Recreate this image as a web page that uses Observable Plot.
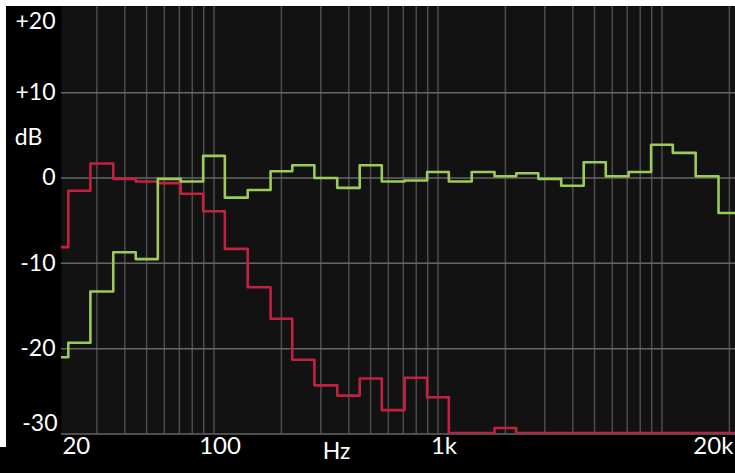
<!DOCTYPE html>
<html>
<head>
<meta charset="utf-8">
<script src="https://cdn.jsdelivr.net/npm/d3@7"></script>
<script src="https://cdn.jsdelivr.net/npm/@observablehq/plot@0.6"></script>
<style>
  html, body { margin: 0; padding: 0; background: #000; }
  #wrap { position: relative; width: 735px; height: 473px; overflow: hidden; }
  .edge { position: absolute; background: #fff; }
</style>
</head>
<body>
<div id="wrap">
  <div id="chart"></div>
  <div class="edge" style="left:0;top:0;width:735px;height:6px"></div>
  <div class="edge" style="left:0;top:0;width:6px;height:447px"></div>
</div>
<script>
// 1/3-octave band centre frequencies (Hz)
const bands = [20, 25, 31.5, 40, 50, 63, 80, 100, 125, 160, 200, 250, 315, 400, 500, 630, 800,
  1000, 1250, 1600, 2000, 2500, 3150, 4000, 5000, 6300, 8000, 10000, 12500, 16000, 20000];

// red series (dB)
const redDb = [-8.1, -1.5, 1.7, -0.1, -0.4, -0.6, -1.85, -3.9, -8.3, -12.8, -16.5, -21.3, -24.3, -25.5, -23.5, -27.2, -23.4,
  -25.7, -29.9, -29.9, -29.3, -29.9, -29.9, -29.9, -29.9, -29.9, -29.9, -29.9, -29.9, -29.9, -29.9];

// green series (dB)
const greenDb = [-21.0, -19.3, -13.3, -8.7, -9.5, -0.1, -0.4, 2.6, -2.3, -1.4, 0.8, 1.5, 0.0, -1.15, 1.5, -0.4, -0.3,
  0.7, -0.4, 0.7, 0.2, 0.55, -0.1, -0.9, 1.85, 0.2, 0.7, 3.9, 2.95, 0.2, -4.1];

// grid lines
const freqGrid = [30, 40, 50, 60, 70, 80, 90, 100, 200, 300, 400, 500, 600, 700, 800, 900, 1000,
  2000, 3000, 4000, 5000, 6000, 7000, 8000, 9000, 10000, 20000];
const dbGrid = [10, 0, -10, -20, -30];

// axis labels
const dbTicks = [20, 10, 0, -10, -20, -30];
const dbTickLabels = ["+20", "+10", "0", "-10", "-20", "-30"];
const freqTicks = [20, 100, 1000, 20000];
const freqTickLabels = ["20", "100", "1k", "20k"];

// build tables (extend the last band to the right edge)
function series(vals) {
  const t = bands.map((f, i) => ({f, db: vals[i]}));
  t.push({f: 25000, db: vals[vals.length - 1]});
  return t;
}
const redData = series(redDb);
const greenData = series(greenDb);

const yLab = dbTicks.map((v, i) => ({v, t: dbTickLabels[i]}));
const xLab = freqTicks.map((v, i) => ({v, t: freqTickLabels[i]}));

const font = "Lato, 'Open Sans', sans-serif";
const lab = {fill: "#fff", fontSize: 23, fontFamily: font};

const chart = Plot.plot({
  width: 735,
  height: 473,
  marginLeft: 61,
  marginRight: 0,
  marginTop: 6,
  marginBottom: 39.5,
  style: {background: "#000", fontFamily: font},
  x: {type: "log", domain: [20.85, 21300], axis: null},
  y: {domain: [-30, 20.1], axis: null},
  marks: [
    Plot.frame({fill: "#121212", stroke: null}),
    Plot.ruleX(freqGrid, {stroke: "#4a4a4a", strokeWidth: 1.6}),
    Plot.ruleY(dbGrid, {stroke: "#666", strokeWidth: 1.5}),
    Plot.line(redData, {x: "f", y: "db", curve: "step", stroke: "#c4203f", strokeWidth: 2.6, clip: true}),
    Plot.line(greenData, {x: "f", y: "db", curve: "step", stroke: "#9ccc55", strokeWidth: 2.6, clip: true}),
    // y labels
    Plot.text(yLab.filter(d => d.v < 20 && d.v > -30), {y: "v", text: "t", frameAnchor: "left", textAnchor: "end", dx: -6, ...lab}),
    Plot.text(yLab.filter(d => d.v === 20), {y: "v", text: "t", frameAnchor: "left", textAnchor: "end", lineAnchor: "top", dx: -6, dy: 5, ...lab}),
    Plot.text(yLab.filter(d => d.v === -30), {y: "v", text: "t", frameAnchor: "left", textAnchor: "end", lineAnchor: "bottom", dx: -4, dy: -3, ...lab}),
    Plot.text(["dB"], {y: 4.75, text: d => d, frameAnchor: "left", textAnchor: "middle", dx: -33, ...lab}),
    // x labels
    Plot.text(xLab.filter(d => d.v === 20), {x: "v", text: "t", frameAnchor: "bottom", textAnchor: "start", dx: 5, dy: 20, ...lab, fontSize: 24}),
    Plot.text(xLab.filter(d => d.v === 100 || d.v === 1000), {x: "v", text: "t", frameAnchor: "bottom", textAnchor: "middle", dx: 6, dy: 20, ...lab, fontSize: 24}),
    Plot.text(xLab.filter(d => d.v === 20000), {x: "v", text: "t", frameAnchor: "bottom", textAnchor: "end", dx: 4, dy: 20, ...lab, fontSize: 24}),
    Plot.text(["Hz"], {text: d => d, frameAnchor: "bottom", textAnchor: "middle", dx: -62, dy: 25, ...lab, fontSize: 23})
  ]
});
document.getElementById("chart").appendChild(chart);
</script>
</body>
</html>
